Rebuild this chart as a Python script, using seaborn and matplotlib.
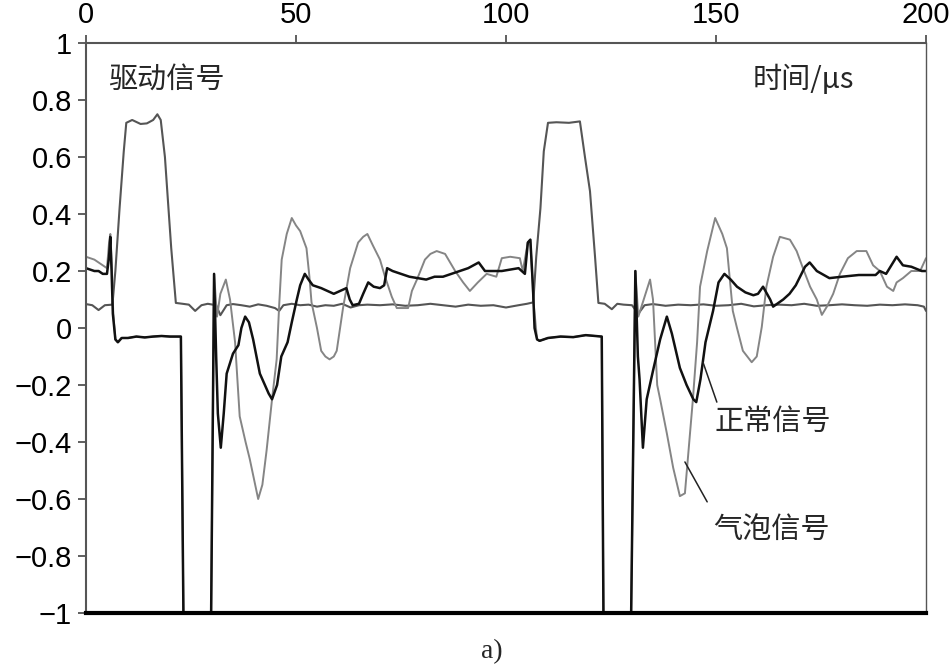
import pandas as pd
import numpy as np
import seaborn as sns
import matplotlib.pyplot as plt

# values (time in us, signal amplitude)
drive = [(0, 0.084), (1.5, 0.08), (3, 0.063), (4.5, 0.08), (6.3, 0.082), (7, 0.2), (8, 0.42), (9, 0.62),
         (9.6, 0.72), (11, 0.73), (13, 0.716), (14.5, 0.718), (16, 0.73), (17, 0.75), (17.8, 0.73),
         (18.8, 0.6), (19.5, 0.45), (20.3, 0.28), (21.4, 0.088), (23, 0.085), (24.5, 0.082), (26, 0.06),
         (27.5, 0.08), (29, 0.085), (31, 0.08), (32, 0.045), (33.5, 0.08), (35, 0.084), (37, 0.08),
         (39, 0.075), (41, 0.083), (43, 0.078), (45, 0.07), (46, 0.06), (47, 0.08), (49, 0.085), (51, 0.08),
         (53, 0.082), (55, 0.075), (57, 0.08), (59, 0.078), (61, 0.085), (63, 0.072), (65, 0.08),
         (67, 0.082), (70, 0.08), (73, 0.083), (76, 0.078), (79, 0.08), (82, 0.085), (85, 0.08),
         (88, 0.075), (91, 0.082), (94, 0.078), (97, 0.08), (100, 0.072), (103, 0.08), (105, 0.085),
         (106.5, 0.09), (107.2, 0.25), (108.2, 0.42), (109, 0.62), (110, 0.72), (112, 0.722), (115, 0.72),
         (117.6, 0.725), (118.8, 0.6), (120, 0.48), (121.2, 0.25), (122, 0.088), (123.5, 0.085),
         (125.2, 0.066), (126.5, 0.085), (128, 0.082), (130, 0.08), (131.5, 0.05), (133, 0.08),
         (135, 0.084), (138, 0.078), (141, 0.082), (144, 0.08), (147, 0.083), (150, 0.078), (153, 0.08),
         (156, 0.085), (159, 0.076), (162, 0.08), (165, 0.082), (168, 0.08), (171, 0.085), (174, 0.078),
         (177, 0.08), (180, 0.083), (183, 0.08), (186, 0.078), (189, 0.082), (192, 0.08), (195, 0.083),
         (198, 0.08), (199.5, 0.075), (200, 0.06)]

normal = [(0, 0.21), (1, 0.205), (2, 0.2), (3, 0.2), (4, 0.19), (5, 0.19), (5.5, 0.25), (5.8, 0.32),
          (6.1, 0.2), (6.4, 0.05), (7, -0.04), (7.6, -0.05), (8.5, -0.035), (10, -0.035), (12, -0.03),
          (14, -0.033), (16, -0.03), (18, -0.028), (20, -0.03), (22.6, -0.03), (23.2, -1), (29.8, -1),
          (30.5, 0.19), (31, -0.1), (31.4, -0.3), (32.1, -0.42), (32.8, -0.3), (33.5, -0.16), (35, -0.09),
          (36.3, -0.06), (37, 0.0), (37.9, 0.04), (38.8, 0.02), (39.8, -0.04), (41.4, -0.16), (42.6, -0.2),
          (43.5, -0.23), (44.3, -0.25), (45.5, -0.2), (46.5, -0.1), (48, -0.05), (49, 0.02), (50.2, 0.1),
          (51, 0.15), (52.1, 0.19), (53, 0.17), (54, 0.15), (56, 0.14), (57.5, 0.13), (59, 0.12),
          (60.5, 0.13), (62, 0.14), (62.8, 0.1), (63.5, 0.08), (65, 0.085), (66, 0.12), (67.2, 0.16),
          (68.5, 0.145), (70, 0.14), (71, 0.15), (71.7, 0.21), (73, 0.2), (75, 0.19), (77, 0.18),
          (79, 0.175), (81, 0.17), (83, 0.18), (85, 0.18), (87, 0.19), (89, 0.2), (91, 0.21), (93.5, 0.23),
          (95, 0.2), (97, 0.2), (99, 0.2), (101, 0.205), (103, 0.21), (104.5, 0.19), (105.2, 0.3),
          (105.8, 0.31), (106.4, 0.15), (106.8, 0.0), (107.4, -0.04), (108, -0.045), (110, -0.035),
          (113, -0.03), (116, -0.032), (119, -0.025), (122.8, -0.03), (123.2, -1), (129.8, -1),
          (130.8, 0.2), (131.4, -0.1), (131.8, -0.18), (132.6, -0.42), (133.5, -0.25), (135, -0.15),
          (136.7, -0.04), (138.3, 0.04), (139.5, -0.02), (141.4, -0.14), (143, -0.2), (144.6, -0.25),
          (145.3, -0.26), (146.3, -0.18), (147.5, -0.05), (149.3, 0.06), (150.6, 0.16), (152, 0.19),
          (153.5, 0.17), (155, 0.145), (157, 0.125), (158.9, 0.115), (160, 0.12), (161.2, 0.145),
          (162.9, 0.1), (163.6, 0.075), (166, 0.1), (167.5, 0.12), (169, 0.15), (171.2, 0.215),
          (172.3, 0.23), (174, 0.2), (177, 0.175), (180, 0.18), (184, 0.186), (188, 0.186), (189, 0.2),
          (190.5, 0.19), (193, 0.25), (194.5, 0.22), (196.5, 0.215), (199, 0.2), (200, 0.2)]

bubble = [(0, 0.25), (1, 0.245), (2, 0.24), (3, 0.23), (4, 0.22), (5, 0.21), (5.5, 0.3), (5.8, 0.33),
          (6.2, 0.2), (6.5, 0.05), (7, -0.04), (7.6, -0.05), (8.5, -0.035), (10, -0.035), (12, -0.03),
          (14, -0.033), (16, -0.03), (18, -0.028), (20, -0.03), (22.6, -0.03), (23.2, -1), (29.8, -1),
          (30.5, 0.19), (31.2, 0.04), (32, 0.12), (33.3, 0.17), (34.3, 0.1), (35.5, -0.05), (36.6, -0.31),
          (38, -0.4), (39, -0.46), (40, -0.53), (41, -0.6), (42, -0.55), (43, -0.43), (44.3, -0.25),
          (45.4, -0.11), (46, 0.08), (46.6, 0.24), (47.8, 0.33), (49, 0.386), (50, 0.36), (51, 0.34),
          (52.5, 0.28), (53.2, 0.18), (53.7, 0.09), (55, 0.0), (56, -0.08), (57, -0.1), (58, -0.11),
          (59, -0.1), (59.7, -0.08), (60.5, 0.0), (61.2, 0.07), (62.9, 0.21), (64.8, 0.3), (66, 0.32),
          (67, 0.33), (68.3, 0.29), (70, 0.24), (71.2, 0.18), (72.8, 0.11), (74, 0.07), (75.5, 0.07),
          (76.7, 0.07), (77.6, 0.13), (78.8, 0.17), (80.7, 0.24), (82, 0.26), (83.5, 0.27), (85.5, 0.26),
          (87.9, 0.2), (89.8, 0.16), (91.4, 0.13), (93.3, 0.16), (95.4, 0.19), (97.7, 0.18), (99, 0.245),
          (101, 0.25), (103.3, 0.245), (104, 0.2), (105.2, 0.3), (105.8, 0.31), (106.5, 0.1),
          (107.4, -0.04), (108, -0.045), (110, -0.035), (113, -0.03), (116, -0.032), (119, -0.025),
          (122.8, -0.03), (123.2, -1), (129.8, -1), (130.8, 0.2), (131.5, 0.04), (134.3, 0.17),
          (135, 0.1), (136, -0.2), (136.7, -0.25), (138.3, -0.37), (139.8, -0.49), (141.4, -0.59),
          (142.6, -0.58), (143.3, -0.46), (144.5, -0.25), (145.5, -0.05), (146.2, 0.145), (147.9, 0.27),
          (149.8, 0.386), (151.5, 0.33), (152.6, 0.28), (154, 0.06), (155, 0.0), (156.4, -0.08),
          (158.5, -0.12), (159.7, -0.1), (160.9, 0.004), (162, 0.145), (163.6, 0.25), (165.2, 0.32),
          (167.6, 0.31), (169.2, 0.27), (170.7, 0.21), (172.4, 0.145), (174, 0.1), (175.2, 0.046),
          (176.4, 0.075), (177.9, 0.12), (179.5, 0.19), (181.4, 0.245), (183.5, 0.27), (185.8, 0.27),
          (187.4, 0.22), (189, 0.2), (190.7, 0.145), (192.2, 0.13), (193, 0.16), (194.5, 0.175),
          (196.5, 0.2), (198.6, 0.2), (200, 0.245)]

x_ticks = [0, 50, 100, 150, 200]
y_ticks = [1, 0.8, 0.6, 0.4, 0.2, 0, -0.2, -0.4, -0.6, -0.8, -1]
y_labels = ["1", "0.8", "0.6", "0.4", "0.2", "0", "\u22120.2", "\u22120.4", "\u22120.6", "\u22120.8", "\u22121"]

sns.set_theme(style="white")
plt.rcParams['font.family'] = ['Liberation Sans', 'Noto Sans CJK SC', 'DejaVu Sans']

fig = plt.figure(figsize=(9.52, 6.65), dpi=100)
ax = fig.add_axes([0.0903, 0.0782, 0.8824, 0.8571])

df_drive = pd.DataFrame(drive, columns=["t", "v"])
df_normal = pd.DataFrame(normal, columns=["t", "v"])
df_bubble = pd.DataFrame(bubble, columns=["t", "v"])

sns.lineplot(data=df_drive, x="t", y="v", sort=False, estimator=None, color="#555555", linewidth=1.5, ax=ax)
sns.lineplot(data=df_bubble, x="t", y="v", sort=False, estimator=None, color="#858585", linewidth=1.4, ax=ax)
sns.lineplot(data=df_normal, x="t", y="v", sort=False, estimator=None, color="#111111", linewidth=1.8, ax=ax)

ax.set_xlim(0, 200)
ax.set_ylim(-1, 1)
ax.xaxis.tick_top()
ax.set_xticks(x_ticks)
ax.set_yticks(y_ticks)
ax.set_yticklabels(y_labels)
ax.set_xlabel("")
ax.set_ylabel("")
ax.tick_params(axis="both", direction="out", length=6, width=1.2, color="#444444",
               labelsize=21, labelcolor="black", pad=4)
ax.tick_params(axis="x", top=True, bottom=False)
ax.tick_params(axis="y", left=True)

for side in ["top", "left", "right"]:
    ax.spines[side].set_color("#555555")
    ax.spines[side].set_linewidth(1.5)
ax.spines["right"].set_linewidth(1.0)
ax.spines["bottom"].set_color("black")
ax.spines["bottom"].set_linewidth(3)

cjk = ['Noto Sans CJK SC', 'DejaVu Sans']
ax.text(0.026, 0.935, "驱动信号", transform=ax.transAxes, fontsize=21, family=cjk, va="center", ha="left")
ax.text(0.915, 0.935, "时间/μs", transform=ax.transAxes, fontsize=21, family=cjk, va="center", ha="right")
ax.text(163.6, -0.33, "正常信号", fontsize=21, family=cjk, va="center", ha="center")
ax.text(163.3, -0.71, "气泡信号", fontsize=21, family=cjk, va="center", ha="center")
ax.plot([146.9, 150.2], [-0.12, -0.26], color="#222222", linewidth=1.1)
ax.plot([142.6, 147.9], [-0.47, -0.61], color="#222222", linewidth=1.1)

fig.text(0.517, 0.02, "a)", fontsize=20, family="Liberation Serif", ha="center", va="center")

fig.savefig("out.png", dpi=100)
